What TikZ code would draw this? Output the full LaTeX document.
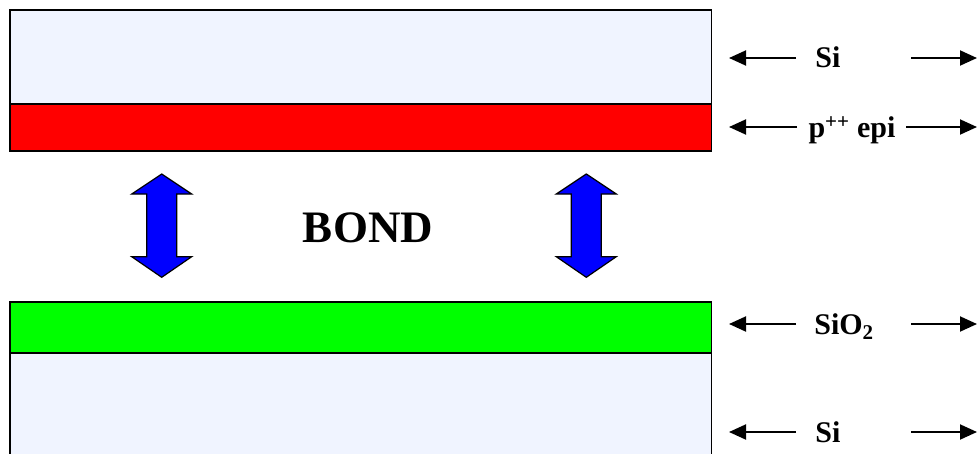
\documentclass[tikz,border=0pt]{standalone}
\usepackage{fontspec}
\setmainfont{Liberation Serif}
\usetikzlibrary{arrows.meta}
\definecolor{silight}{HTML}{F0F4FF}
\definecolor{epired}{HTML}{FF0000}
\definecolor{oxgreen}{HTML}{00FF00}
\definecolor{bondblue}{HTML}{0000FF}
\begin{document}
\begin{tikzpicture}[x=1pt,y=-1pt,
  layer/.style={draw=black, line width=1.2pt, inner sep=0pt, outer sep=0pt},
  lbl/.style={font=\bfseries\fontsize{30}{32}\selectfont, inner sep=0pt, anchor=base},
  dimarrow/.style={line width=1.9pt, -{Triangle[length=17pt,width=15pt]}},
  bondarrow/.style={draw=black, fill=bondblue, line width=1.2pt, line join=miter}
]
\useasboundingbox (0,0) rectangle (978,453);
% wafers
\node[layer, fill=silight, minimum width=701.5pt, minimum height=94pt, anchor=north west] (sitop) at (10,10) {};
\node[layer, fill=epired, minimum width=701.5pt, minimum height=47pt, anchor=north west] (epi) at (10,104) {};
\node[layer, fill=silight, minimum width=701.5pt, minimum height=120pt, anchor=north west] (sibot) at (10,353) {};
\node[layer, fill=oxgreen, minimum width=701.5pt, minimum height=51pt, anchor=north west] (ox) at (10,302) {};
% bond arrows
\foreach \cx in {161.7, 586.3}{
  \draw[bondarrow] (\cx,174) -- (\cx+30,194) -- (\cx+15,194) -- (\cx+15,256.7) -- (\cx+30,256.7)
    -- (\cx,277.3) -- (\cx-30,256.7) -- (\cx-15,256.7) -- (\cx-15,194) -- (\cx-30,194) -- cycle;
}
\node[font=\bfseries\fontsize{45}{50}\selectfont, inner sep=0pt] (bond) at (368,228) {BOND};
% labels
\node[lbl] (lsi1) at (828,67.5) {Si};
\node[lbl] (lepi) at (852,137.5) {p\textsuperscript{++} epi};
\node[lbl] (lox) at (844,334.5) {SiO\textsubscript{2}};
\node[lbl] (lsi2) at (828,442.5) {Si};
\foreach \r/\y/\ls/\rs in {1/58/796/911, 2/127/797/906, 3/324/796/911, 4/432/796/911}{
  \coordinate (s\r l) at (\ls,\y); \coordinate (t\r l) at (729,\y);
  \coordinate (s\r r) at (\rs,\y); \coordinate (t\r r) at (977,\y);
  \draw[dimarrow] (s\r l) -- (t\r l);
  \draw[dimarrow] (s\r r) -- (t\r r);
}
\end{tikzpicture}
\end{document}
